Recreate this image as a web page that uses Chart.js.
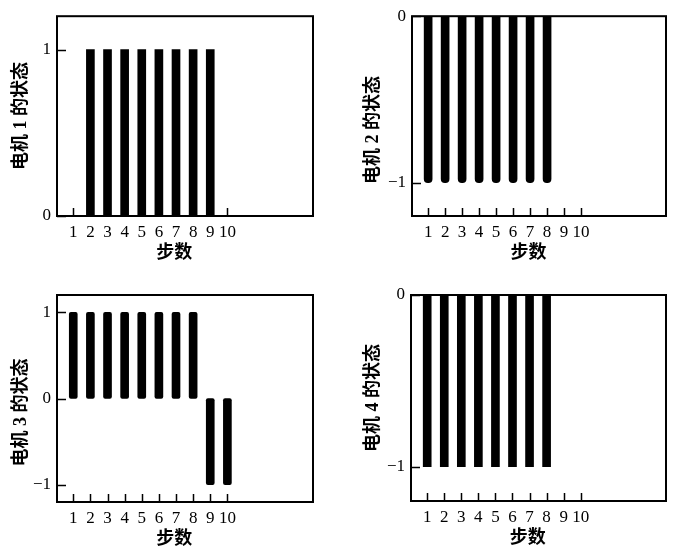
<!DOCTYPE html>
<html>
<head>
<meta charset="utf-8">
<script src="https://cdn.jsdelivr.net/npm/chart.js@4.4.1/dist/chart.umd.min.js"></script>
<style>
  html, body { margin: 0; padding: 0; background: #fff; }
  .box { position: absolute; }
</style>
</head>
<body>
<div class="box" style="left:0;top:0;width:337px;height:275px"><canvas id="c1"></canvas></div>
<div class="box" style="left:337px;top:0;width:338px;height:275px"><canvas id="c2"></canvas></div>
<div class="box" style="left:0;top:275px;width:337px;height:274px"><canvas id="c3"></canvas></div>
<div class="box" style="left:337px;top:275px;width:338px;height:274px"><canvas id="c4"></canvas></div>
<script>
const steps = [1, 2, 3, 4, 5, 6, 7, 8, 9, 10];
const motor1 = [0, 1, 1, 1, 1, 1, 1, 1, 1, 0];
const motor2 = [-1, -1, -1, -1, -1, -1, -1, -1, 0, 0];
const motor3 = [1, 1, 1, 1, 1, 1, 1, 1, -1, -1];
const motor4 = [-1, -1, -1, -1, -1, -1, -1, -1, 0, 0];
const ticks1 = [0, 1];
const ticks2 = [-1, 0];
const ticks3 = [-1, 0, 1];
const ticks4 = [-1, 0];
const xTitle = '步数';

const FONT = "'Liberation Serif', 'Noto Sans CJK SC', serif";

// frame, inward tick marks and axis titles
const framePlugin = {
    id: 'frame',
    afterDraw(chart) {
        const ctx = chart.ctx;
        const a = chart.chartArea;
        const o = chart.options.plugins.frame;
        const xs = chart.scales.x, ys = chart.scales.y;
        ctx.save();
        ctx.strokeStyle = '#000';
        ctx.lineWidth = 1.5;
        ctx.beginPath();
        steps.forEach(s => {
            const px = Math.round(xs.getPixelForValue(s)) + 0.5;
            ctx.moveTo(px, a.bottom);
            ctx.lineTo(px, a.bottom - 8);
        });
        o.yTicks.forEach(v => {
            const py = Math.round(ys.getPixelForValue(v)) + 0.5;
            ctx.moveTo(a.left, py);
            ctx.lineTo(a.left + 9, py);
        });
        ctx.stroke();
        ctx.lineWidth = 2;
        ctx.strokeRect(a.left, a.top, a.right - a.left, a.bottom - a.top);

        ctx.fillStyle = '#000';
        ctx.font = 'bold 18px ' + FONT;
        ctx.textAlign = 'center';
        ctx.textBaseline = 'middle';
        ctx.fillText(xTitle, xs.getPixelForValue(6.9), a.bottom + 37);

        ctx.translate(o.yTitleX, (a.top + a.bottom) / 2 + o.yTitleShift);
        ctx.rotate(-Math.PI / 2);
        ctx.fillText(o.yTitle, 0, 0);
        ctx.restore();
    }
};

function makeChart(id, values, yTicks, yMin, yMax, o) {
    const ctx = document.getElementById(id).getContext('2d');
    return new Chart(ctx, {
        type: 'bar',
        data: {
            datasets: [{
                data: steps.map((s, i) => ({ x: s, y: values[i] })),
                backgroundColor: '#000',
                borderWidth: 0,
                barThickness: 8,
                borderRadius: o.radius,
                borderSkipped: o.skip
            }]
        },
        plugins: [framePlugin],
        options: {
            responsive: true,
            maintainAspectRatio: false,
            animation: false,
            layout: { padding: { top: o.top, right: o.right, left: 0, bottom: 0 } },
            plugins: {
                legend: { display: false },
                tooltip: { enabled: false },
                frame: { yTicks: yTicks, yTitle: o.yTitle, yTitleX: o.yTitleX, yTitleShift: o.yTitleShift }
            },
            scales: {
                x: {
                    type: 'linear',
                    offset: false,
                    min: 0.05,
                    max: 15,
                    grid: { display: false, drawTicks: false },
                    border: { display: false },
                    afterBuildTicks: scale => { scale.ticks = steps.map(v => ({ value: v })); },
                    afterFit: scale => { scale.height = o.bottomH; },
                    ticks: {
                        autoSkip: false,
                        maxRotation: 0,
                        padding: 6,
                        color: '#000',
                        font: { family: FONT, size: 17 }
                    }
                },
                y: {
                    min: yMin,
                    max: yMax,
                    grid: { display: false, drawTicks: false },
                    border: { display: false },
                    afterBuildTicks: scale => { scale.ticks = yTicks.map(v => ({ value: v })); },
                    afterFit: scale => { scale.width = o.leftW; },
                    ticks: {
                        padding: 6,
                        color: '#000',
                        font: { family: FONT, size: 17 },
                        callback: v => v < 0 ? '\u2212' + Math.abs(v) : String(v)
                    }
                }
            }
        }
    });
}

makeChart('c1', motor1, ticks1, 0, 1.2, {
    top: 10, right: 24, leftW: 57, bottomH: 59, radius: 0, skip: 'start',
    yTitle: '电机 1 的状态', yTitleX: 21, yTitleShift: 0
});
makeChart('c2', motor2, ticks2, -1.2, 0, {
    top: 10, right: 9, leftW: 75, bottomH: 59, radius: 4, skip: 'start',
    yTitle: '电机 2 的状态', yTitleX: 36, yTitleShift: 14
});
makeChart('c3', motor3, ticks3, -1.2, 1.2, {
    top: 20, right: 24, leftW: 57, bottomH: 47, radius: 2, skip: false,
    yTitle: '电机 3 的状态', yTitleX: 21, yTitleShift: 14
});
makeChart('c4', motor4, ticks4, -1.2, 0, {
    top: 20, right: 9, leftW: 74, bottomH: 48, radius: 0, skip: 'start',
    yTitle: '电机 4 的状态', yTitleX: 36, yTitleShift: 0
});
</script>
</body>
</html>
